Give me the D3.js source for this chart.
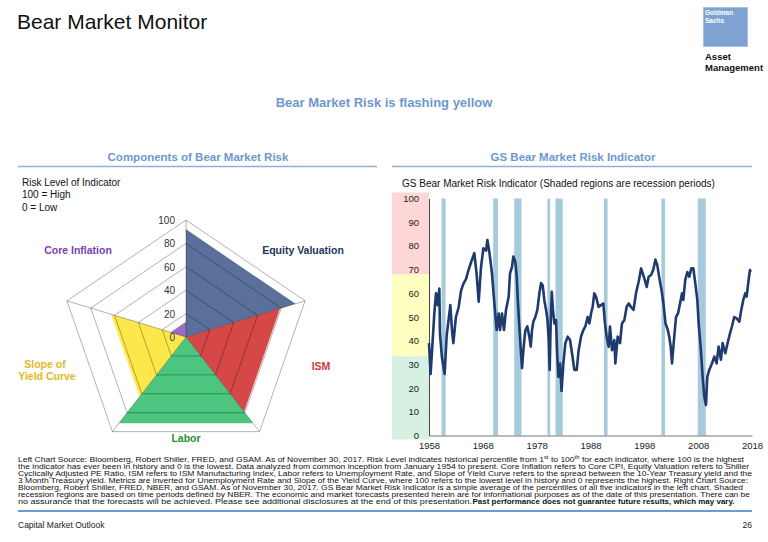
<!DOCTYPE html>
<html>
<head>
<meta charset="utf-8">
<script src="https://cdn.jsdelivr.net/npm/d3@7"></script>
<style>
  body { margin: 0; background: #fff; }
  svg { display: block; font-family: "Liberation Sans", Arial, sans-serif; }
</style>
</head>
<body>
<svg id="chart" width="768" height="542"></svg>
<script>
// radar (left) data
var components = ["Equity Valuation", "ISM", "Labor", "Slope of Yield Curve", "Core Inflation"];
var componentRisk = [92, 79, 91, 63, 13];
var radarTicks = [0, 20, 40, 60, 80, 100];

// risk indicator (right) data
var riskYears = [1958.0, 1958.3, 1958.99, 1959.3, 1959.6, 1959.92, 1960.04, 1960.4, 1960.9, 1961.28, 1961.65, 1961.96, 1962.27, 1962.52, 1963.0, 1963.5, 1963.95, 1964.38, 1964.87, 1965.37, 1965.8, 1966.42, 1966.85, 1967.23, 1967.66, 1968.1, 1968.6, 1968.84, 1969.2, 1969.7, 1970.13, 1970.57, 1970.94, 1971.19, 1971.56, 1971.93, 1972.3, 1972.8, 1973.05, 1973.42, 1973.67, 1974.04, 1974.3, 1974.5, 1974.78, 1975.09, 1975.28, 1975.59, 1975.9, 1976.27, 1976.64, 1976.9, 1977.14, 1977.38, 1977.75, 1978.13, 1978.5, 1978.81, 1979.12, 1979.43, 1979.74, 1979.98, 1980.24, 1980.42, 1980.6, 1980.8, 1981.03, 1981.28, 1981.6, 1981.78, 1982.03, 1982.34, 1982.62, 1982.96, 1983.33, 1983.76, 1984.2, 1984.57, 1985.0, 1985.44, 1985.8, 1986.24, 1986.67, 1987.04, 1987.47, 1987.8, 1988.1, 1988.4, 1988.7, 1989.02, 1989.5, 1989.95, 1990.38, 1990.69, 1991.0, 1991.37, 1991.62, 1991.99, 1992.43, 1992.62, 1993.05, 1993.48, 1993.85, 1994.29, 1994.72, 1995.1, 1995.5, 1996.0, 1996.45, 1996.95, 1997.4, 1997.7, 1998.0, 1998.44, 1998.8, 1999.25, 1999.68, 2000.05, 2000.4, 2000.8, 2001.2, 2001.55, 2001.93, 2002.36, 2002.6, 2002.9, 2003.14, 2003.5, 2003.89, 2004.26, 2004.63, 2005.0, 2005.24, 2005.6, 2005.99, 2006.36, 2006.73, 2007.1, 2007.47, 2007.84, 2008.09, 2008.46, 2008.83, 2009.14, 2009.45, 2009.7, 2010.07, 2010.56, 2011.0, 2011.43, 2011.8, 2012.23, 2012.54, 2013.04, 2013.47, 2013.9, 2014.27, 2014.7, 2015.14, 2015.64, 2016.01, 2016.38, 2016.75, 2017.0, 2017.37, 2017.62, 2017.75];
var riskValues = [39, 26, 51.5, 60, 55, 62, 43, 33, 26, 42, 49, 55, 44.5, 39, 50, 54, 61, 64, 66, 70, 73, 77, 68, 56.5, 71, 79, 78, 82.5, 77.6, 68.4, 56, 44.5, 51.5, 44.5, 51.5, 44.5, 53, 58.6, 68.4, 71.2, 75.5, 73.3, 67, 57, 46, 34.7, 28.4, 37.5, 44.5, 46, 41.7, 37.5, 44.5, 48, 50, 53, 60, 64.3, 63.4, 57, 53, 49.4, 40.3, 27.7, 47.3, 60.6, 53, 47.3, 48.7, 36, 24.8, 30.4, 18.8, 30.4, 39, 41.7, 40.3, 34.7, 27.7, 27.7, 36, 41.7, 44.5, 46, 50, 47.3, 51.5, 54.3, 60, 58.6, 54.3, 55, 55.7, 47.3, 41.7, 37.5, 46, 36, 40.3, 30.4, 41.7, 39, 47.3, 48.7, 54.3, 55.7, 54.3, 53, 60, 65, 70.5, 68.4, 66.3, 62.7, 67, 67.7, 70, 74.2, 72, 66.3, 61.3, 55.7, 47.3, 44.5, 42, 37.5, 30.4, 40.3, 50, 51.5, 55.7, 60, 57.2, 65.6, 69, 67, 70.5, 70.5, 64.2, 57.2, 47.3, 37.5, 24.8, 16.4, 12.9, 24.8, 27.7, 30.4, 33.3, 30.4, 37.5, 32, 39, 34.7, 39, 43, 46, 50, 49.4, 48, 53, 57.2, 60, 58.6, 65.6, 69.8, 69];

// NBER recessions as [start, end] decimal years
var recessions = [[1960.33, 1961.08], [1969.92, 1970.83], [1973.83, 1975.17], [1980.0, 1980.5], [1981.5, 1982.83], [1990.5, 1991.17], [2001.17, 2001.83], [2007.92, 2009.42]];
var zoneBreaks = [0, 33.5, 68, 100];
var yTicks = d3.range(0, 101, 10);
var xTicks = [1958, 1968, 1978, 1988, 1998, 2008, 2018];

var footnote = [
  ["Left Chart Source: Bloomberg, Robert Shiller, FRED, and GSAM. As of November 30, 2017.  Risk Level indicates historical percentile from 1", "st", " to 100", "th", " for each indicator, where 100 is the highest"],
  ["the indicator has ever been in history and 0 is the lowest. Data analyzed from common inception from January 1954 to present. Core Inflation refers to Core CPI, Equity Valuation refers to Shiller"],
  ["Cyclically Adjusted PE Ratio, ISM refers to ISM Manufacturing Index, Labor refers to Unemployment Rate, and Slope of Yield Curve refers to the spread between the 10-Year Treasury yield and the"],
  ["3 Month Treasury yield. Metrics are inverted for Unemployment Rate and Slope of the Yield Curve, where 100 refers to the lowest level in history and 0 represents the highest. Right Chart Source:"],
  ["Bloomberg, Robert Shiller, FRED, NBER, and GSAM. As of November 30, 2017. GS Bear Market Risk Indicator is a simple average of the percentiles of all five indicators in the left chart. Shaded"],
  ["recession regions are based on time periods defined by NBER. The economic and market forecasts presented herein are for informational purposes as of the date of this presentation. There can be"],
  ["no assurance that the forecasts will be achieved. Please see additional disclosures at the end of this presentation. "]
];
var footnoteBold = "Past performance does not guarantee future results, which may vary.";

var svg = d3.select("#chart");
var titleBlue = "#6f97cf";

// page header
svg.append("text").attr("x", 17).attr("y", 29).style("font-size", "21px").attr("fill", "#111").text("Bear Market Monitor");

var logo = svg.append("g");
logo.append("rect").attr("x", 703.5).attr("y", 7.5).attr("width", 44).attr("height", 39)
  .attr("fill", "#7ea3d2").attr("stroke", "#a9c2e3");
logo.append("text").attr("x", 705).attr("y", 15).attr("fill", "#fff")
  .style("font-family", "'Liberation Sans Narrow', 'Liberation Sans', sans-serif").style("font-size", "6.5px").style("font-weight", "bold")
  .selectAll("tspan").data(["Goldman", "Sachs"]).join("tspan")
  .attr("x", 705).attr("dy", (d, i) => i ? 7.5 : 0).text(d => d);
logo.append("text").attr("fill", "#111")
  .style("font-family", "'Liberation Sans Narrow', 'Liberation Sans', sans-serif").style("font-size", "9.5px").style("font-weight", "bold")
  .selectAll("tspan").data(["Asset", "Management"]).join("tspan")
  .attr("x", 705).attr("y", (d, i) => 60 + i * 11).text(d => d);

svg.append("text").attr("x", 384).attr("y", 107).attr("text-anchor", "middle")
  .style("font-size", "13px").style("font-weight", "bold").attr("fill", titleBlue)
  .text("Bear Market Risk is flashing yellow");

// section titles
[["Components of Bear Market Risk", 198, 18, 377], ["GS Bear Market Risk Indicator", 573, 392, 752]].forEach(function (s) {
  svg.append("text").attr("x", s[1]).attr("y", 161).attr("text-anchor", "middle")
    .style("font-size", "11.5px").style("font-weight", "bold").attr("fill", titleBlue).text(s[0]);
  svg.append("line").attr("x1", s[2]).attr("x2", s[3]).attr("y1", 166.5).attr("y2", 166.5)
    .attr("stroke", "#8fb0dc").attr("stroke-width", 1.5);
});

// ---------- left: radar ----------
var cx = 186, cy = 337, R = 117, sx = 1.07;
var r = d3.scaleLinear().domain([0, 100]).range([0, R]);
var angle = i => i * 2 * Math.PI / 5;
function pt(i, v) {
  return [cx + sx * r(v) * Math.sin(angle(i)), cy - r(v) * Math.cos(angle(i))];
}

svg.append("text").attr("fill", "#111").style("font-size", "10px")
  .selectAll("tspan").data(["Risk Level of Indicator", "100 = High", "0 = Low"]).join("tspan")
  .attr("x", 22).attr("y", (d, i) => 186 + i * 12.3).text(d => d);

var wedgeColors = ["#5b6f9b", "#d64848", "#4cc67f", "#fde84b", "#9a6cc3"];
var labelColors = ["#1f3560", "#d43a3a", "#239236", "#e2b825", "#7a3fb0"];

svg.append("g").selectAll("path").data(componentRisk).join("path")
  .attr("d", (v, i) => "M" + [cx, cy] + "L" + pt(i, v) + "L" + pt((i + 1) % 5, v) + "Z")
  .attr("fill", (v, i) => wedgeColors[i]);

var grid = svg.append("g").attr("fill", "none").attr("stroke", "#000").attr("stroke-opacity", 0.38).attr("stroke-width", 0.8);
grid.selectAll("path.ring").data(radarTicks.slice(1)).join("path").attr("class", "ring")
  .attr("d", v => "M" + d3.range(5).map(i => pt(i, v)).join("L") + "Z");
grid.selectAll("line").data(d3.range(5)).join("line")
  .attr("x1", cx).attr("y1", cy)
  .attr("x2", i => pt(i, 100)[0]).attr("y2", i => pt(i, 100)[1]);

svg.append("g").selectAll("text").data(radarTicks).join("text")
  .attr("x", cx - 11).attr("y", v => cy - r(v) + 4).attr("text-anchor", "end")
  .style("font-size", "10px").attr("fill", "#333").text(d => d);

var labelPos = [[303, 254], [321, 370], [186, 442], [[45, 368], [47, 380]], [78, 254]];
components.forEach(function (name, i) {
  var t = svg.append("text").attr("text-anchor", "middle").style("font-size", "10.5px")
    .style("font-weight", "bold").attr("fill", labelColors[i]);
  if (i === 3) {
    t.selectAll("tspan").data(["Slope of", "Yield Curve"]).join("tspan")
      .attr("x", (d, k) => labelPos[3][k][0]).attr("y", (d, k) => labelPos[3][k][1]).text(d => d);
  } else {
    t.attr("x", labelPos[i][0]).attr("y", labelPos[i][1]).text(name);
  }
});

// ---------- right: risk indicator line ----------
var x = d3.scaleLinear().domain([1958, 2018]).range([429, 752]);
var y = d3.scaleLinear().domain([0, 100]).range([435.5, 198.5]);

svg.append("text").attr("x", 402).attr("y", 187).style("font-size", "10px").attr("fill", "#111")
  .text("GS Bear Market Risk Indicator (Shaded regions are recession periods)");

var zoneColors = ["#d6f1e2", "#ffffc2", "#ffd6d6"];
svg.append("g").selectAll("rect").data(d3.pairs(zoneBreaks)).join("rect")
  .attr("x", 392).attr("width", x(1958) - 392)
  .attr("y", (d, i) => i === 2 ? y(d[1]) - 6 : y(d[1]))
  .attr("height", (d, i) => y(d[0]) - y(d[1]) + (i === 2 ? 6 : 0) + (i === 0 ? 4 : 0))
  .attr("fill", (d, i) => zoneColors[i]);

svg.append("g").selectAll("rect").data(recessions).join("rect")
  .attr("x", d => x(d[0])).attr("width", d => Math.max(2.5, x(d[1]) - x(d[0])))
  .attr("y", y(100)).attr("height", y(0) - y(100))
  .attr("fill", "#a6cadb");

var yAxis = svg.append("g").attr("transform", "translate(" + x(1958) + ",0)")
  .call(d3.axisLeft(y).tickValues(yTicks).tickSize(0).tickPadding(10));
var xAxis = svg.append("g").attr("transform", "translate(0," + y(0) + ")")
  .call(d3.axisBottom(x).tickValues(xTicks).tickFormat(d3.format("d")).tickSize(0).tickPadding(7));
[yAxis, xAxis].forEach(function (a) {
  a.select(".domain").attr("stroke", "#444").attr("stroke-width", 1);
  a.selectAll("text").style("font-size", "9.5px").style("font-family", "'Liberation Sans', Arial, sans-serif").attr("fill", "#222");
});
xAxis.select(".domain").attr("stroke", "#777");

var series = riskYears.map((t, i) => ({ t: t, v: riskValues[i] }));
var line = d3.line().x(d => x(d.t)).y(d => y(d.v));
svg.append("path").datum(series)
  .attr("fill", "none").attr("stroke", "#1e3a6f").attr("stroke-width", 2.6)
  .attr("stroke-linejoin", "round").attr("d", line);

// ---------- footnote ----------
var noteWidths = [726, 731, 734, 730, 725, 732, 454];
var notes = svg.append("g").style("font-size", "7.2px").attr("fill", "#111");
footnote.forEach(function (parts, i) {
  var t = notes.append("text").attr("x", 18).attr("y", 461.5 + i * 7.1)
    .attr("textLength", noteWidths[i]).attr("lengthAdjust", "spacingAndGlyphs");
  parts.forEach(function (p, k) {
    var sup = parts.length > 1 && k % 2 === 1;
    t.append("tspan").text(p)
      .attr("baseline-shift", sup ? "super" : null)
      .style("font-size", sup ? "5px" : null);
  });
});
notes.append("text").attr("x", 472.5).attr("y", 461.5 + 6 * 7.1)
  .attr("textLength", 262).attr("lengthAdjust", "spacingAndGlyphs")
  .style("font-weight", "bold").text(footnoteBold);

// ---------- footer ----------
svg.append("line").attr("x1", 18).attr("x2", 752).attr("y1", 511).attr("y2", 511)
  .attr("stroke", "#3a7cc4").attr("stroke-width", 1.5);
svg.append("text").attr("x", 18).attr("y", 527.5).style("font-size", "8.5px").attr("fill", "#222").text("Capital Market Outlook");
svg.append("text").attr("x", 752).attr("y", 527.5).attr("text-anchor", "end").style("font-size", "8.5px").attr("fill", "#222").text("26");
</script>
</body>
</html>
